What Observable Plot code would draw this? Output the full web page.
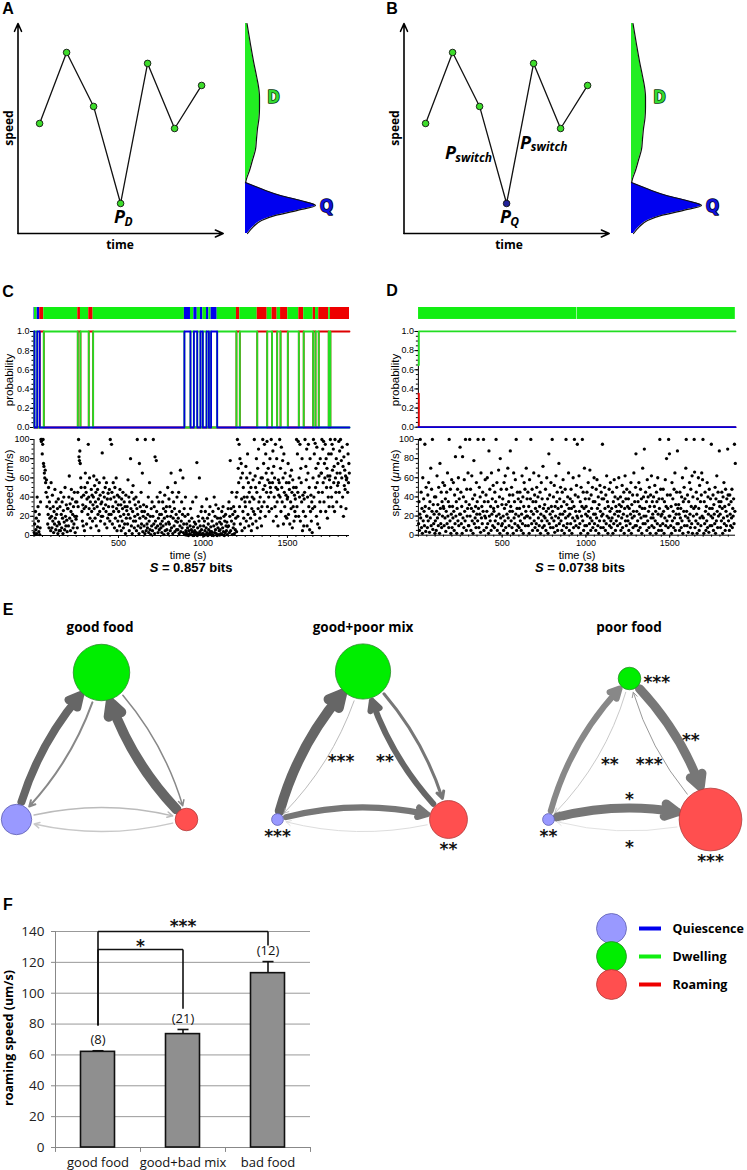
<!DOCTYPE html>
<html><head><meta charset="utf-8">
<script src="https://cdn.jsdelivr.net/npm/d3@7"></script>
<script src="https://cdn.jsdelivr.net/npm/@observablehq/plot@0.6"></script>
<style>
body{margin:0;background:#fff;}
#fig{position:relative;width:747px;height:1170px;overflow:hidden;background:#fff;font-family:"Liberation Sans",Arial,sans-serif;color:#000;}
.abs{position:absolute;line-height:0;}
.t{position:absolute;white-space:nowrap;line-height:1;transform:translate(-50%,-50%);}
.r{position:absolute;white-space:nowrap;line-height:1;transform:translate(-50%,-50%) rotate(-90deg);}
</style></head><body><div id="fig"></div>
<script>
// ================= DATA =================
// Panels A / B : schematic speed trace
const schemTime = [1, 2, 3, 4, 5, 6, 7];
const schemSpeed = [5.24, 8.62, 6.05, 1.43, 8.1, 5.0, 7.05];
const schemStateA = ["D", "D", "D", "D", "D", "D", "D"];
const schemStateB = ["D", "D", "D", "Q", "D", "D", "D"];
const schemTimeDomain = [0.2, 7.8];
const schemSpeedDomain = [0, 10];
// emission densities (speed -> density)
const distDSpeed = [10, 9, 8.2, 7.5, 7, 6.5, 6, 5.5, 5, 4.5, 4, 3.5, 3, 2.6, 2.4];
const distDDensity = [1.5, 5, 8, 11, 13, 14, 14, 13.5, 12, 11, 10, 7, 4, 1, 0];
const distQSpeed = [2.43, 2.24, 2.05, 1.81, 1.57, 1.33, 1.1, 0.86, 0.62, 0.33, 0];
const distQDensity = [0, 10, 20, 35, 55, 70, 52, 30, 16, 8, 2];

// Panel C : decoded states (segment starts, s) and speed samples
const cTimeMax = 1867;
const cSegStart = [0, 3, 19, 34, 58, 259, 275, 324, 350, 890, 926, 946, 966, 985, 999, 1021, 1035, 1048, 1084, 1198, 1218, 1321, 1380, 1409, 1439, 1459, 1502, 1567, 1596, 1652, 1666, 1685, 1744, 1754];
const cSegState = ["Q", "D", "Q", "R", "D", "R", "D", "R", "D", "Q", "D", "Q", "D", "Q", "D", "Q", "D", "Q", "D", "R", "D", "R", "D", "R", "D", "R", "D", "R", "D", "R", "D", "R", "D", "R"];
const cSpeedBins = [
"3 12 1 25 6 18 2 40 9 30 15 4 22 1 8 35 100 98 100 85",
"95 100 75 72 65 60 68 55 45 58 30 40 12 22 50 8 35 18 28 5",
"55 20 8 42 15 30 3 25 12 48 18 6 35 22 10 28 2 38 14 5",
"12 30 5 45 22 8 35 18 2 26 40 14 6 50 20 10 32 16 4 28",
"28 10 40 62 18 33 5 25 48 15 38 22 8 30 12 45 20 3 35 17",
"20 35 8 45 30 100 82 78 88 75 60 50 40 25 15 32 10 42 28 5",
"50 65 30 45 12 38 55 22 95 40 28 60 18 35 8 48 25 42 15 32",
"40 62 28 52 18 35 45 10 58 30 48 22 38 5 55 25 42 15 33 20",
"35 86 20 45 28 60 40 12 50 32 25 55 8 38 18 44 30 22 48 15",
"100 38 22 95 45 12 30 55 25 40 8 50 18 35 60 28 5 42 15 32",
"25 40 10 48 20 32 5 38 15 28 45 8 22 35 12 30 2 42 18 26",
"30 12 58 22 40 5 35 18 80 28 10 45 2 25 52 15 38 8 20 32",
"15 40 5 28 100 22 10 35 2 75 18 30 8 45 12 25 65 4 20 32",
"10 25 2 100 18 5 30 12 8 22 40 3 15 55 6 20 1 28 10 35",
"5 20 100 12 30 2 82 15 8 78 25 40 10 3 18 35 6 22 45 12",
"8 22 3 15 35 10 28 1 18 42 5 25 12 30 6 20 50 2 14 38",
"12 30 5 20 65 8 25 45 2 18 35 10 28 4 55 15 22 6 40 14",
"6 18 45 2 25 10 68 4 15 35 8 22 60 3 12 28 1 20 40 5",
"3 12 1 8 22 0 5 15 2 10 28 1 6 18 4 35 0 9 3 14",
"5 1 12 40 3 76 0 8 20 2 15 60 4 10 1 25 6 30 2 18",
"2 10 0 15 5 25 1 8 38 3 18 0 12 6 22 2 30 4 9 1",
"4 15 1 25 0 10 40 3 20 6 32 2 12 0 18 8 28 1 5 14",
"6 18 2 12 25 1 8 30 4 20 0 15 3 22 10 5 14 1 9 28",
"10 35 3 20 78 5 28 15 45 1 22 8 30 12 2 25 6 18 40 4",
"45 100 20 70 55 95 30 80 12 60 75 38 5 65 25 50 18 40 8 35",
"30 72 15 60 40 85 22 55 10 45 35 65 18 50 5 28 40 12 58 25",
"38 100 22 62 50 15 80 45 8 70 28 90 35 55 18 40 25 60 10 30",
"60 100 48 75 35 95 52 20 85 65 45 98 30 58 70 40 25 55 80 50",
"45 100 28 65 55 88 15 72 40 60 30 95 50 20 80 35 48 10 58 42",
"55 100 40 70 25 92 50 35 78 60 12 85 45 30 65 20 42 55 18 38",
"40 75 22 55 48 12 62 35 28 68 45 8 58 30 50 15 42 25 38 20",
"50 100 30 85 45 98 20 60 40 95 15 70 55 35 80 5 42 25 10 38",
"45 100 20 72 58 90 10 40 65 95 30 50 6 80 25 42 15 35 3 28",
"60 100 40 85 30 96 50 70 20 92 55 12 75 45 62 8 35 80 25 65",
"65 100 45 90 55 98 35 75 60 95 25 80 50 70 18 62 40 85 30 58",
"62 100 50 85 40 95 68 30 90 55 72 25 100 60 45 80 35 65 52 75",
"55 98 45 88 65 100 30 78 60 92 40 72 20 82 52 68 48 62 28 58",
"60 95 45 85 55 75 65"];

// Panel D
const dTimeMax = 1893;
const dSegStart = [0, 948];
const dSegEnd = [945, 1893];
const dSegState = ["D", "D"];
const dProbTime = [0, 3, 1893];
const dProbD = [0.65, 1, 1];
const dProbR = [0.35, 0, 0];
const dProbQ = [0, 0, 0];
const dSpeedBins = [
"12 35 5 22 100 18 45 8 28 2 60 15 38 25 10 95 30 4 50 20",
"20 8 42 15 55 28 3 35 18 70 10 48 25 100 6 32 12 22 40 2",
"15 40 5 25 62 18 32 10 50 22 2 75 28 12 45 8 35 20 55 30",
"28 10 52 18 38 4 25 45 12 65 20 35 8 100 30 15 48 2 22 58",
"8 30 18 55 25 5 42 12 82 20 35 2 28 48 15 60 10 38 22 92",
"22 45 12 30 2 82 18 40 8 58 25 15 100 35 5 48 20 28 65 10",
"10 32 100 20 48 5 28 62 15 38 2 25 78 12 42 18 30 8 55 22",
"35 15 100 28 8 50 22 40 3 65 18 30 12 45 25 100 5 35 20 58",
"18 42 8 25 60 12 35 2 88 20 48 15 30 5 65 22 38 10 52 28",
"25 8 45 15 35 100 20 55 5 30 12 68 22 40 2 80 18 48 10 32",
"12 38 20 5 55 28 15 62 8 32 48 22 2 70 18 35 10 42 25 88",
"30 15 50 8 25 42 2 65 18 35 12 58 22 100 5 28 45 10 38 20",
"8 28 45 15 35 5 22 62 12 40 2 30 55 18 48 10 25 70 20 38",
"20 45 10 30 2 58 18 38 100 25 12 48 5 35 22 65 15 42 8 28",
"35 12 50 25 5 40 18 62 10 30 45 2 22 55 15 38 8 72 28 20",
"10 32 18 48 5 25 60 15 38 2 28 85 12 42 22 8 55 30 18 100",
"25 8 40 15 52 3 30 20 62 10 35 45 5 28 18 75 12 38 22 50",
"15 30 5 45 22 58 10 35 2 25 48 18 100 8 32 12 40 20 65 28",
"5 22 38 12 48 28 2 35 18 60 8 30 100 15 42 25 10 52 20 95",
"18 40 8 62 25 12 35 2 50 20 30 100 15 45 5 28 70 10 38 22",
"30 10 45 20 2 55 25 38 12 68 18 5 42 28 15 50 8 35 22 60",
"12 35 22 5 48 18 58 28 10 40 2 32 15 52 25 8 45 20 38 95",
"22 8 38 15 50 28 5 42 12 62 20 35 2 30 18 48 10 25 55 15",
"8 28 18 45 2 35 12 58 22 40 5 30 15 50 25 10 38 20 60 32",
"25 12 40 5 30 18 52 8 35 22 45 2 28 62 15 38 10 48 20 30",
"15 38 5 28 45 12 22 55 2 32 18 42 8 25 65 20 35 10 50 85",
"10 25 42 15 35 5 55 22 30 8 48 18 38 2 28 70 12 40 20 90",
"28 12 45 20 35 5 58 15 40 25 8 50 30 2 42 18 62 10 35 22",
"18 40 8 30 52 15 25 2 45 35 12 60 22 5 38 28 100 10 48 20",
"5 22 38 12 48 25 2 35 18 58 10 30 80 15 42 28 8 100 20 85",
"20 42 10 30 2 55 15 38 25 8 48 18 65 5 32 22 45 12 88 28",
"12 32 22 5 45 18 28 8 40 15 60 2 35 25 50 10 38 20 70 100",
"25 10 42 18 3 35 15 55 22 8 48 30 12 62 2 40 20 28 100 66",
"8 30 15 45 22 2 38 12 60 28 5 52 18 35 10 42 65 20 58 100",
"18 2 35 12 45 25 5 30 15 55 8 40 22 3 48 28 10 38 20 95",
"10 28 18 42 5 32 22 12 50 2 38 15 62 25 8 45 20 35 88 30",
"22 8 35 15 45 28 2 40 18 55 12 30 5 48 25 10 38 20 90 42",
"15 32 5 42 22 10 35 18 48 8 28 20 38 12 95 25 75"];

// Panel E : transition networks
const netStates = ["Q", "D", "R"];
const netNames = ["good food", "good+poor mix", "poor food"];
const occGood = [0.20, 0.69, 0.11];
const occMix = [0.03, 0.66, 0.31];
const occPoor = [0.03, 0.11, 0.85];
const edgeFrom = ["Q", "D", "R", "D", "Q", "R"];
const edgeTo = ["D", "Q", "D", "R", "R", "Q"];
const rateGood = [8, 2, 10, 1.5, 1.5, 1.5];
const rateMix = [10, 0.8, 6, 3, 6, 1];
const ratePoor = [6, 0.8, 1, 9, 9, 1];
const edgeGreyGood = ["#666", "#888", "#666", "#888", "#bbb", "#c8c8c8"];
const edgeGreyMix = ["#666", "#aaa", "#666", "#777", "#777", "#ddd"];
const edgeGreyPoor = ["#888", "#bbb", "#999", "#777", "#777", "#e2e2e2"];
const edgeSigGood = ["", "", "", "", "", ""];
const edgeSigMix = ["", "***", "**", "", "", ""];
const edgeSigPoor = ["", "**", "***", "**", "*", "*"];
const nodeSigGood = ["", "", ""];
const nodeSigMix = ["***", "", "**"];
const nodeSigPoor = ["**", "***", "***"];

// Panel F : roaming speed
const fCats = ["good food", "good+bad mix", "bad food"];
const fMean = [62, 73.5, 113];
const fErr = [0.7, 3, 7.5];
const fN = ["(8)", "(21)", "(12)"];
const sigFromIdx = [0, 0];
const sigToIdx = [2, 1];
const sigLevel = [140, 128.3];
const sigLeftEnd = [79, 79];
const sigRightEnd = [131, 90];
const sigText = ["***", "*"];

// Legend
const legendStates = ["Quiescence", "Dwelling", "Roaming"];

// ================= STYLES =================
const nodeFill = {Q: "#9999ff", D: "#00ee00", R: "#ff4f4f"};
const nodeStroke = {Q: "#6060b0", D: "#2a8a2a", R: "#b03a3a"};
const barColor = {Q: "#0000ee", D: "#11ee11", R: "#ee0000"};
const lineColor = {Q: "#0000dd", D: "#22dd22", R: "#dd0000"};
const baseStyle = {background: "transparent", overflow: "visible", fontFamily: "Liberation Sans, Arial, sans-serif", fontSize: "9px", color: "#000"};

const fig = document.getElementById("fig");
function place(node, left, top) {
  const d = document.createElement("div");
  d.className = "abs"; d.style.left = left + "px"; d.style.top = top + "px";
  d.appendChild(node); fig.appendChild(d);
}
function label(html, x, y, css, rotate) {
  const d = document.createElement("div");
  d.className = rotate ? "r" : "t";
  d.style.left = x + "px"; d.style.top = y + "px";
  d.style.cssText += css || "";
  d.innerHTML = html; fig.appendChild(d);
}

// ================= PANELS A & B =================
function schematic(left, states, isB) {
  const pts = schemTime.map((t, i) => ({t, s: schemSpeed[i], st: states[i]}));
  const axes = [
    {x1: schemTimeDomain[0], y1: schemSpeedDomain[0], x2: schemTimeDomain[1], y2: schemSpeedDomain[0]},
    {x1: schemTimeDomain[0], y1: schemSpeedDomain[0], x2: schemTimeDomain[0], y2: schemSpeedDomain[1]}
  ];
  const bold = {fontWeight: "bold", fontStyle: "italic", fontFamily: "Open Sans, Liberation Sans, sans-serif"};
  const marks = [
    Plot.arrow(axes, {x1: "x1", y1: "y1", x2: "x2", y2: "y2", stroke: "#000", strokeWidth: 1.6, headLength: 8, headAngle: 48}),
    Plot.line(pts, {x: "t", y: "s", stroke: "#111", strokeWidth: 1.3}),
    Plot.dot(pts, {x: "t", y: "s", r: 3.3, fill: d => d.st === "Q" ? "#22229a" : "#3ddc2a", stroke: "#111", strokeWidth: 0.9})
  ];
  const low = [pts[3]];
  marks.push(Plot.text(low, {x: "t", y: "s", text: () => "P", dx: -1, dy: 14, fontSize: 18, ...bold}));
  marks.push(Plot.text(low, {x: "t", y: "s", text: () => isB ? "Q" : "D", dx: 8, dy: 19, fontSize: 12, ...bold}));
  if (isB) {
    const m1 = [{t: (pts[2].t + pts[3].t) / 2, s: (pts[2].s + pts[3].s) / 2}];
    const m2 = [{t: (pts[3].t + pts[4].t) / 2, s: (pts[3].s + pts[4].s) / 2}];
    marks.push(Plot.text(m1, {x: "t", y: "s", text: () => "P", dx: -42.5, dy: -2, fontSize: 18, ...bold}));
    marks.push(Plot.text(m1, {x: "t", y: "s", text: () => "switch", dx: -19.5, dy: 3, fontSize: 12, ...bold}));
    marks.push(Plot.text(m2, {x: "t", y: "s", text: () => "P", dx: 5.5, dy: 9.5, fontSize: 18, ...bold}));
    marks.push(Plot.text(m2, {x: "t", y: "s", text: () => "switch", dx: 29, dy: 14, fontSize: 12, ...bold}));
  }
  const p = Plot.plot({
    width: 240, height: 250, margin: 0, style: baseStyle,
    x: {domain: schemTimeDomain, range: [17.5, 222.7], axis: null},
    y: {domain: schemSpeedDomain, range: [233, 23], axis: null},
    marks
  });
  place(p, left, 0);

  const dD = distDSpeed.map((s, i) => ({s, d: distDDensity[i]}));
  const dQ = distQSpeed.map((s, i) => ({s, d: distQDensity[i]}));
  const dist = Plot.plot({
    width: 110, height: 250, margin: 0, style: baseStyle,
    x: {domain: [0, 80], range: [5, 85], axis: null},
    y: {domain: schemSpeedDomain, range: [233, 23], axis: null},
    marks: [
      Plot.areaX(dD, {y: "s", x: "d", fill: "#22ee22", curve: "monotone-y"}),
      Plot.lineX(dD, {y: "s", x: "d", stroke: "#111", strokeWidth: 1.2, curve: "monotone-y"}),
      Plot.areaX(dQ, {y: "s", x: "d", fill: "#0000f0", curve: "monotone-y"}),
      Plot.lineX(dQ, {y: "s", x: "d", stroke: "#111", strokeWidth: 1.2, curve: "monotone-y"}),
      Plot.text([dD[5]], {y: "s", x: "d", text: () => "D", dx: 14, dy: 1, fontSize: 17, fontWeight: "bold", fill: "#33dd33", stroke: "#0c3a0c", strokeWidth: 1.6, paintOrder: "stroke", fontFamily: "Open Sans, sans-serif"}),
      Plot.text([dQ[5]], {y: "s", x: "d", text: () => "Q", dx: 11, dy: 1, fontSize: 17, fontWeight: "bold", fill: "#1010dd", stroke: "#05052a", strokeWidth: 1.6, paintOrder: "stroke", fontFamily: "Open Sans, sans-serif"})
    ]
  });
  place(dist, left + 240, 0);
}
schematic(0, schemStateA, false);
schematic(386, schemStateB, true);
const schemLbl = "font-weight:bold;font-size:12px;font-family:'Open Sans',sans-serif;";
label("speed", 9, 128, schemLbl, true);
label("time", 120, 245, schemLbl);
label("speed", 395, 128, schemLbl, true);
label("time", 509, 245, schemLbl);

// ================= PANELS C & D =================
function parseBins(bins, binSize, tMax) {
  const pts = [];
  bins.forEach((s, b) => {
    const vals = s.trim().split(/\s+/).map(Number);
    const t0 = b * binSize, w = Math.min(binSize, tMax - t0);
    vals.forEach((v, i) => pts.push({t: t0 + (i + 0.5) * w / vals.length, v}));
  });
  return pts;
}
function trace(left, x0, x1, tMax, segs, prob, pts) {
  const W = 374;
  const xs = {domain: [0, tMax], range: [x0 - left, x1 - left]};
  const ml = x0 - left, mr = W - (x1 - left);
  const bar = Plot.plot({
    width: W, height: 12, margin: 0, style: baseStyle,
    x: {...xs, axis: null}, color: {type: "identity"},
    marks: [Plot.barX(segs, {x1: "start", x2: "end", fill: d => barColor[d.state]})]
  });
  place(bar, left, 307);
  const pr = Plot.plot({
    width: W, height: 116, marginTop: 10, marginBottom: 10, marginLeft: ml, marginRight: mr, style: baseStyle,
    x: {...xs, axis: null}, y: {domain: [0, 1]},
    marks: [
      Plot.axisY({ticks: d3.range(0, 1.001, 0.05), tickSize: 2, tickFormat: () => "", label: null}),
      Plot.axisY({ticks: [0, 0.2, 0.4, 0.6, 0.8, 1], tickFormat: d3.format(".1f"), tickSize: 3.5, tickPadding: 1, label: null, fontSize: 9}),
      Plot.ruleX([0], {stroke: "#000"}),
      ...["R", "D", "Q"].map(s => Plot.line(prob.filter(d => d.state === s), {x: "t", y: "p", curve: "step-after", stroke: lineColor[s], strokeWidth: 1.8}))
    ]
  });
  place(pr, left, 321);
  const sc = Plot.plot({
    width: W, height: 136, marginTop: 10, marginBottom: 30, marginLeft: ml, marginRight: mr, style: baseStyle,
    x: xs, y: {domain: [0, 100]},
    marks: [
      Plot.axisY({ticks: d3.range(0, 101, 5), tickSize: 2, tickFormat: () => "", label: null}),
      Plot.axisY({ticks: d3.range(0, 101, 20), tickSize: 3.5, tickPadding: 1, label: null, fontSize: 9}),
      Plot.axisX({ticks: d3.range(0, tMax, 50), tickSize: 2, tickFormat: () => "", label: null}),
      Plot.axisX({ticks: [500, 1000, 1500], tickFormat: d3.format("d"), tickSize: 3, tickPadding: 1, label: null, fontSize: 9}),
      Plot.ruleX([0], {stroke: "#000"}),
      Plot.ruleY([0], {stroke: "#000"}),
      Plot.dot(pts, {x: "t", y: "v", r: 1.65, fill: "#000"})
    ]
  });
  place(sc, left, 429);
}
// C
const cSegs = cSegStart.map((s, i) => ({start: s, end: i + 1 < cSegStart.length ? cSegStart[i + 1] : cTimeMax, state: cSegState[i]}));
const cProb = [];
for (const st of ["R", "D", "Q"]) {
  cSegs.forEach(g => cProb.push({state: st, t: g.start, p: g.state === st ? 1 : 0}));
  cProb.push({state: st, t: cTimeMax, p: cSegs[cSegs.length - 1].state === st ? 1 : 0});
}
trace(0, 33.5, 349, cTimeMax, cSegs, cProb, parseBins(cSpeedBins, 50, cTimeMax));
// D
const dSegs = dSegStart.map((s, i) => ({start: s, end: dSegEnd[i], state: dSegState[i]}));
const dProb = [];
dProbTime.forEach((t, i) => {
  dProb.push({state: "R", t, p: dProbR[i]});
  dProb.push({state: "D", t, p: dProbD[i]});
  dProb.push({state: "Q", t, p: dProbQ[i]});
});
trace(374, 418, 736, dTimeMax, dSegs, dProb, parseBins(dSpeedBins, 50, dTimeMax));

const axT = "font-size:11.5px;";
label("probability", 10, 380, axT, true);
label("speed (<i>μ</i>m/s)", 10, 483, axT, true);
label("time (s)", 188, 555, "font-size:11px;");
label("<i>S</i> = 0.857 bits", 191, 567, "font-size:13px;font-weight:bold;");
label("probability", 396, 380, axT, true);
label("speed (<i>μ</i>m/s)", 396, 483, axT, true);
label("time (s)", 577, 555, "font-size:11px;");
label("<i>S</i> = 0.0738 bits", 580, 567, "font-size:13px;font-weight:bold;");

// ================= PANEL E =================
const starFont = {fontFamily: "DejaVu Sans, sans-serif", fontWeight: "bold", fontSize: 17, fill: "#111"};
function network(L, xr, yr, occ, rates, greys, edgeSig, nodeSig) {
  const W = 250, H = 270;
  const pxX = xr[1] - xr[0], pxY = yr[0] - yr[1];
  const netX = [0, 0.5, 1], netY = [0, 1, 0];
  const rScale = 34;
  const nodes = netStates.map((s, i) => ({s, x: netX[i], y: netY[i], occ: occ[i], sig: nodeSig[i]}));
  const byState = s => nodes[netStates.indexOf(s)];
  const rpx = o => rScale * Math.sqrt(o);
  const marks = [];
  const stars = [];
  edgeFrom.forEach((f, k) => {
    const a = byState(f), b = byState(edgeTo[k]);
    const w = rates[k];
    marks.push(Plot.arrow([{a, b}], {
      x1: d => d.a.x, y1: d => d.a.y, x2: d => d.b.x, y2: d => d.b.y,
      bend: 16, stroke: greys[k], strokeWidth: w,
      headLength: 1.5 * (4.5 + 1.0 * w) / w, headAngle: 55,
      insetStart: rpx(a.occ) + 3, insetEnd: rpx(b.occ) + 3
    }));
    if (edgeSig[k]) {
      const ax = a.x * pxX, ay = -a.y * pxY, bx = b.x * pxX, by = -b.y * pxY;
      const len = Math.hypot(bx - ax, by - ay);
      const nx = (by - ay) / len, ny = -(bx - ax) / len;
      const mx = (ax + bx) / 2 + 24 * nx, my = (ay + by) / 2 + 24 * ny;
      stars.push({x: mx / pxX, y: -my / pxY, t: edgeSig[k]});
    }
  });
  marks.push(Plot.dot(nodes, {x: "x", y: "y", r: "occ", fill: d => nodeFill[d.s], stroke: d => nodeStroke[d.s], strokeWidth: 0.8}));
  marks.push(Plot.text(stars, {x: "x", y: "y", text: "t", dy: 4, ...starFont}));
  nodes.forEach(n => {
    if (!n.sig) return;
    const r = rpx(n.occ);
    if (n.s === "D") marks.push(Plot.text([n], {x: "x", y: "y", text: "sig", dx: r + 16, dy: 4, ...starFont}));
    else marks.push(Plot.text([n], {x: "x", y: "y", text: "sig", dy: r + 11, ...starFont}));
  });
  const p = Plot.plot({
    width: W, height: H, margin: 0, style: baseStyle,
    x: {domain: [0, 1], range: [xr[0] - L, xr[1] - L], axis: null},
    y: {domain: [0, 1], range: [yr[0] - 620, yr[1] - 620], axis: null},
    r: {type: "sqrt", domain: [0, 1], range: [0, rScale]},
    color: {type: "identity"},
    marks
  });
  place(p, L, 620);
}
network(0, [16, 186], [819, 672], occGood, rateGood, edgeGreyGood, edgeSigGood, nodeSigGood);
network(250, [277, 448], [819, 671], occMix, rateMix, edgeGreyMix, edgeSigMix, nodeSigMix);
network(497, [548, 710], [819, 678], occPoor, ratePoor, edgeGreyPoor, edgeSigPoor, nodeSigPoor);
const netT = "font-weight:bold;font-size:13.5px;font-family:'Open Sans',sans-serif;";
label(netNames[0], 100, 628, netT);
label(netNames[1], 363, 628, netT);
label(netNames[2], 629, 628, netT);

// ================= PANEL F =================
const fData = fCats.map((c, i) => ({i, c, mean: fMean[i], err: fErr[i], n: fN[i]}));
const sigs = sigText.map((t, k) => ({a: sigFromIdx[k], b: sigToIdx[k], lv: sigLevel[k], le: sigLeftEnd[k], re: sigRightEnd[k], t}));
const fFont = "Open Sans, Liberation Sans, sans-serif";
const fPlot = Plot.plot({
  width: 330, height: 270, marginTop: 31, marginBottom: 23, marginLeft: 55, marginRight: 20,
  style: {...baseStyle, fontFamily: fFont, fontSize: "13px"},
  x: {domain: [-0.5, fCats.length - 0.5]},
  y: {domain: [0, 140]},
  marks: [
    Plot.gridY(d3.range(20, 141, 20), {stroke: "#999", strokeOpacity: 1}),
    Plot.axisY({ticks: d3.range(0, 141, 20), tickSize: 4, tickPadding: 7, label: null, fontSize: 13.5, stroke: "#888", fill: "#222"}),
    Plot.axisX({ticks: d3.range(fCats.length), tickFormat: i => fCats[i], tickSize: 0, tickPadding: 10, label: null, fontSize: 13, fill: "#111"}),
    Plot.ruleX([-0.5], {stroke: "#888"}),
    Plot.ruleY([0], {stroke: "#888"}),
    Plot.ruleX(d3.range(fCats.length + 1).map(i => i - 0.5), {y1: 0, y2: -3.2, stroke: "#888"}),
    Plot.rectY(fData, {x1: d => d.i - 0.2, x2: d => d.i + 0.2, y1: 0, y2: "mean", fill: "#8f8f8f", stroke: "#111", strokeWidth: 1.6}),
    Plot.ruleX(fData, {x: "i", y1: "mean", y2: d => d.mean + d.err, stroke: "#111", strokeWidth: 1.6}),
    Plot.link(fData, {x1: d => d.i - 0.065, x2: d => d.i + 0.065, y1: d => d.mean + d.err, y2: d => d.mean + d.err, stroke: "#111", strokeWidth: 1.6}),
    Plot.text(fData, {x: "i", y: d => d.mean + d.err, text: "n", dy: -11, fontSize: 13, fill: "#111"}),
    Plot.link(sigs, {x1: "a", x2: "b", y1: "lv", y2: "lv", stroke: "#111", strokeWidth: 1.6}),
    Plot.link(sigs, {x1: "a", x2: "a", y1: "lv", y2: "le", stroke: "#111", strokeWidth: 1.6}),
    Plot.link(sigs, {x1: "b", x2: "b", y1: "lv", y2: "re", stroke: "#111", strokeWidth: 1.6}),
    Plot.text(sigs.slice(0, 1), {x: d => (d.a + d.b) / 2, y: "lv", text: "t", dy: -5, ...starFont}),
    Plot.text(sigs.slice(1), {x: d => (d.a + d.b) / 2, y: "lv", text: "t", dy: -3, ...starFont})
  ]
});
place(fPlot, 0, 900);
label("roaming speed (um/s)", 9, 1038, "font-weight:bold;font-size:12.5px;font-family:'Open Sans',sans-serif;", true);

// Legend
const legPlot = Plot.plot({
  width: 167, height: 140, margin: 0, style: {...baseStyle, fontFamily: "Open Sans, sans-serif"},
  y: {type: "point", domain: legendStates, range: [33, 119], axis: null},
  color: {type: "identity"},
  marks: [
    Plot.dot(legendStates, {y: d => d, frameAnchor: "left", dx: 31, r: 15, fill: (d, i) => nodeFill[netStates[i]], stroke: (d, i) => nodeStroke[netStates[i]], strokeWidth: 0.8}),
    Plot.tickY(legendStates, {y: d => d, stroke: (d, i) => barColor[netStates[i]], strokeWidth: 4, insetLeft: 59, insetRight: 86}),
    Plot.text(legendStates, {y: d => d, text: d => d, frameAnchor: "left", dx: 92, textAnchor: "start", fontWeight: "bold", fontSize: 12.5})
  ]
});
place(legPlot, 580, 880);

// panel letters
const letter = "font-weight:bold;font-size:16px;font-family:'Liberation Sans',Arial,sans-serif;";
label("A", 8, 9, letter);
label("B", 392, 9, letter);
label("C", 8, 292, letter);
label("D", 392, 291, letter);
label("E", 8, 610, letter);
label("F", 8, 905, letter);
</script></body></html>
